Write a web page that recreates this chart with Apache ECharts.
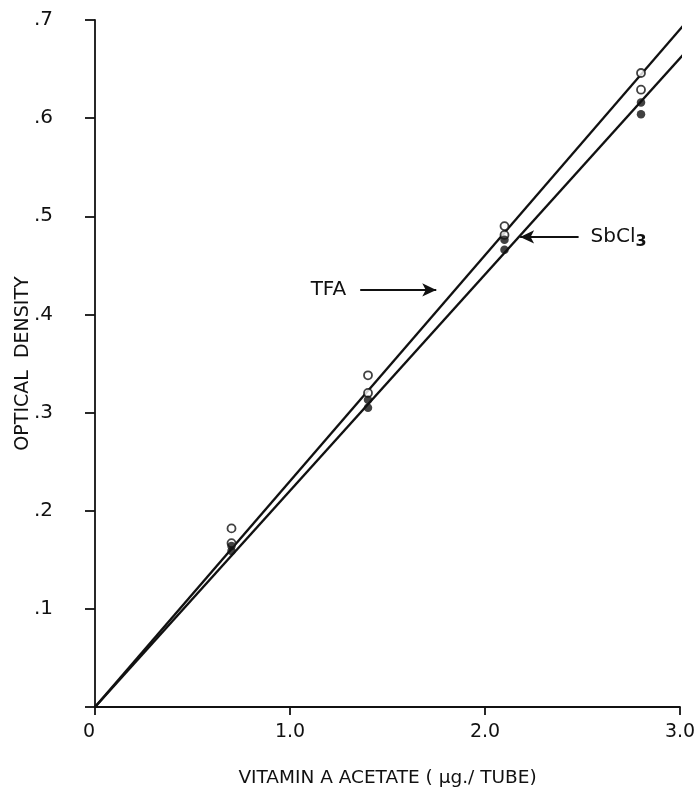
<!DOCTYPE html>
<html>
<head>
<meta charset="utf-8">
<script src="https://cdn.jsdelivr.net/npm/echarts@6/dist/echarts.min.js"></script>
<style>
  html, body { margin: 0; padding: 0; background: #fff; }
  #chart { width: 697px; height: 797px; }
</style>
</head>
<body>
<div id="chart"></div>
<script>
// values
const xTicks = ['0', '1.0', '2.0', '3.0'];
const yTicks = ['', '.1', '.2', '.3', '.4', '.5', '.6', '.7'];

// open circles (TFA)
const tfaPoints = [
  [0.7, 0.182], [0.7, 0.167],
  [1.4, 0.338], [1.4, 0.320],
  [2.1, 0.490], [2.1, 0.481],
  [2.8, 0.646], [2.8, 0.629]
];
// filled circles (SbCl3)
const sbPoints = [
  [0.7, 0.164], [0.7, 0.159],
  [1.4, 0.313], [1.4, 0.305],
  [2.1, 0.476], [2.1, 0.466],
  [2.8, 0.616], [2.8, 0.604]
];
// fitted lines through origin
const tfaLine = [[0, 0], [3.05, 0.702]];
const sbLine = [[0, 0], [3.05, 0.672]];

// label arrows: [from, to]
const tfaArrow = [[1.36, 0.425], [1.75, 0.425]];
const sbArrow = [[2.48, 0.479], [2.18, 0.479]];

const FONT = 'DejaVu Sans';
const chart = echarts.init(document.getElementById('chart'));

const option = {
  animation: false,
  backgroundColor: '#fff',
  grid: { left: 95, right: 17, top: 20, bottom: 90, outerBoundsMode: 'none' },
  xAxis: {
    type: 'value', min: 0, max: 3, interval: 1,
    name: 'VITAMIN A ACETATE ( μg./ TUBE)',
    nameLocation: 'middle', nameGap: 62,
    nameTextStyle: { fontFamily: FONT, fontSize: 18.5, color: '#111' },
    axisLine: { lineStyle: { color: '#111', width: 1.8 } },
    axisTick: { length: 8, lineStyle: { color: '#111', width: 1.8 } },
    axisLabel: {
      fontFamily: FONT, fontSize: 19, color: '#111', margin: 16,
      alignMinLabel: 'right',
      formatter: v => xTicks[Math.round(v)]
    },
    splitLine: { show: false }
  },
  yAxis: {
    type: 'value', min: 0, max: 0.7, interval: 0.1,
    name: 'OPTICAL  DENSITY',
    nameLocation: 'middle', nameGap: 62, nameRotate: 90,
    nameMoveOverlap: false,
    nameTextStyle: { fontFamily: FONT, fontSize: 19, color: '#111' },
    axisLine: { lineStyle: { color: '#111', width: 1.8 } },
    axisTick: { length: 10, lineStyle: { color: '#111', width: 1.8 } },
    axisLabel: {
      fontFamily: FONT, fontSize: 20, color: '#111', margin: 42,
      formatter: v => yTicks[Math.round(v * 10)]
    },
    splitLine: { show: false }
  },
  series: [
    {
      type: 'line', data: tfaLine, symbol: 'none', clip: false,
      lineStyle: { color: '#111', width: 2.4 },
      markLine: {
        silent: true, symbol: ['none', 'arrow'], symbolSize: [10, 14],
        lineStyle: { color: '#111', width: 2, type: 'solid' },
        label: {
          position: 'start', formatter: 'TFA', distance: 14,
          fontFamily: FONT, fontSize: 20, color: '#111'
        },
        data: [[{ coord: tfaArrow[0] }, { coord: tfaArrow[1] }]]
      }
    },
    {
      type: 'line', data: sbLine, symbol: 'none', clip: false,
      lineStyle: { color: '#111', width: 2.4 },
      markLine: {
        silent: true, symbol: ['none', 'arrow'], symbolSize: [10, 14],
        lineStyle: { color: '#111', width: 2, type: 'solid' },
        label: {
          position: 'start', formatter: 'SbCl{s|3}', distance: 12,
          fontFamily: FONT, fontSize: 20, color: '#111',
          rich: { s: { fontFamily: FONT, fontSize: 16, fontWeight: 'bold', color: '#111', padding: [9, 0, 0, 0] } }
        },
        data: [[{ coord: sbArrow[0] }, { coord: sbArrow[1] }]]
      }
    },
    {
      type: 'scatter', data: tfaPoints, symbol: 'circle', symbolSize: 8,
      itemStyle: { color: '#fff', borderColor: '#111', borderWidth: 1.8 }, z: 5
    },
    {
      type: 'scatter', data: sbPoints, symbol: 'circle', symbolSize: 8.5,
      itemStyle: { color: '#111' }, z: 6
    }
  ]
};

chart.setOption(option);
</script>
</body>
</html>
